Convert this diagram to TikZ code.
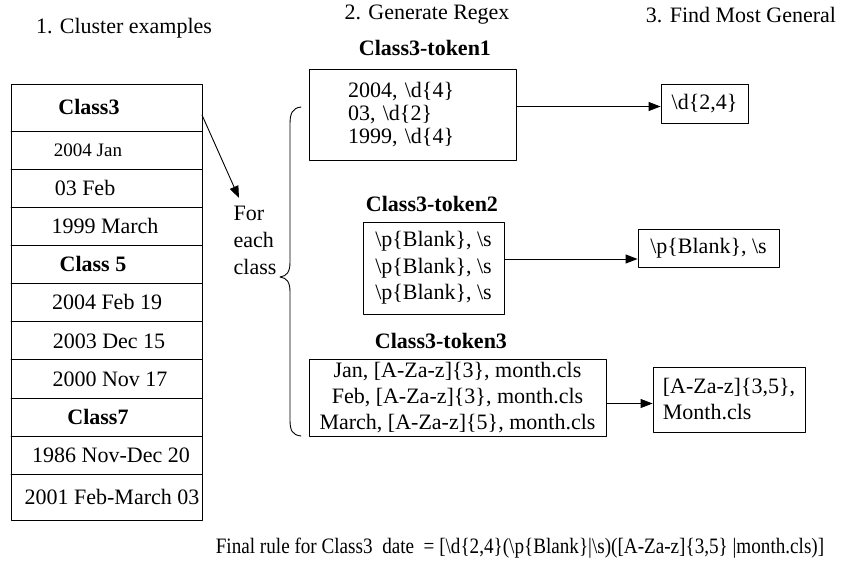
\documentclass[tikz,border=0pt]{standalone}
\usepackage{fontspec}
\setmainfont{Liberation Serif}
\usetikzlibrary{arrows.meta}
\newcommand{\bs}{\textbackslash}
\newcommand{\txt}[1]{\fontsize{22}{#1}\selectfont}

\begin{document}
\begin{tikzpicture}[x=1pt,y=-1pt,line cap=round,line join=round,
    every node/.style={font=\txt{25},inner sep=0pt},
    title/.style={font=\txt{25}\bfseries},
    box/.style={draw,line width=0.9pt},
    arr/.style={-{Triangle[length=12pt,width=9pt]},line width=0.9pt}]

    \useasboundingbox (0,0) rectangle (843,567);

    % headings
    \node (headA) at (124,28) {1. Cluster examples};
    \node (headB) at (427,15) {2. Generate Regex};
    \node (headC) at (741,15) {3. Find Most General};

    % cluster table
    \draw [line width=0.9pt] (11,84) rectangle (202,520);
    \foreach \y in {131,169,207,245,283,321,359,398,436,474}
        \draw [line width=0.9pt] (11,\y) -- (202,\y);
    \node[title] (row1) at (89,107) {Class3};
    \node[font=\txt{22}\fontsize{19}{22}\selectfont] (row2) at (88,150) {2004 Jan};
    \node (row3) at (85,188) {03 Feb};
    \node (row4) at (105,226) {1999 March};
    \node[title] (row5) at (93,264) {Class 5};
    \node (row6) at (107,302) {2004 Feb 19};
    \node (row7) at (109,341) {2003 Dec 15};
    \node (row8) at (110,379) {2000 Nov 17};
    \node[title] (row9) at (98,417) {Class7};
    \node (row10) at (111,455) {1986 Nov-Dec 20};
    \node (row11) at (112,497) {2001 Feb-March 03};

    \coordinate (tblA) at (202,115);
    \coordinate (tblB) at (239,198);
    \draw [arr] (tblA) -- (tblB);
    \node[align=left,font=\txt{27}] (each) at (255,240) {For\\each\\class};

    % brace
    \draw [line width=0.9pt] (301,107) .. controls (292,108) and (290,114) .. (290,124)
        -- (290,262) .. controls (290,272) and (287,276) .. (280,277)
        .. controls (287,278) and (290,282) .. (290,292)
        -- (290,420) .. controls (290,430) and (292,435) .. (301,436);

    % generated regex per token
    \node[title] (titA) at (425,48) {Class3-token1};
    \node[box,minimum width=207pt,minimum height=91pt,text width=129pt,
        inner xsep=39pt,align=left,font=\txt{23}] (tokA) at (412.5,114.5)
        {2004, \bs d\{4\}\\03, \bs d\{2\}\\1999, \bs d\{4\}};

    \node[title] (titB) at (432,204) {Class3-token2};
    \node[box,minimum width=141pt,minimum height=92pt,align=center,
        font=\txt{26.5}] (tokB) at (433.5,268)
        {\bs p\{Blank\}, \bs s\\\bs p\{Blank\}, \bs s\\\bs p\{Blank\}, \bs s};

    \node[title] (titC) at (441,341) {Class3-token3};
    \node[box,minimum width=297pt,minimum height=77pt,align=center,
        font=\txt{26}] (tokC) at (457.5,397.5)
        {Jan, [A-Za-z]\{3\}, month.cls\\Feb, [A-Za-z]\{3\}, month.cls\\March, [A-Za-z]\{5\}, month.cls};

    % most general
    \node[box,minimum width=87pt,minimum height=39pt] (outA) at (704.5,103.5) {\bs d\{2,4\}};
    \node[box,minimum width=141pt,minimum height=38pt] (outB) at (708.5,248) {\bs p\{Blank\}, \bs s};
    \node[box,minimum width=152pt,minimum height=65pt,align=left,
        font=\txt{26}] (outC) at (729,399.5)
        {[A-Za-z]\{3,5\},\\Month.cls};

    \draw [arr] ([yshift=8pt]tokA.east) -- ([yshift=8pt]tokA.east -| outA.west);
    \draw [arr] ([yshift=9pt]tokB.east) -- ([yshift=9pt]tokB.east -| outB.west);
    \draw [arr] ([yshift=-6pt]tokC.east) -- ([yshift=-6pt]tokC.east -| outC.west);

    \node (rule) at (520,548) {\scalebox{0.87}[1]{Final rule for Class3\ \ date\ \ = [\bs d\{2,4\}(\bs p\{Blank\}|\bs s)([A-Za-z]\{3,5\} |month.cls)]}};
\end{tikzpicture}
\end{document}
